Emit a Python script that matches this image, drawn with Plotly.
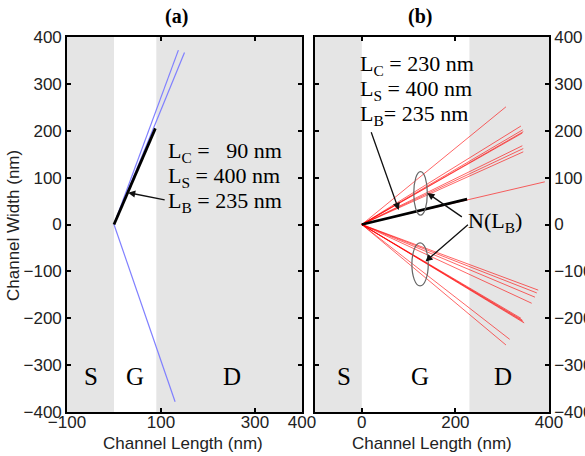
import plotly.graph_objects as go

# ---------------- data ----------------
# panel (a)
a_blue_x = [[0, 137], [0, 150], [0, 130]]
a_blue_y = [[0, 372], [0, 367], [0, -378]]
a_black_x = [0, 88]
a_black_y = [0, 205]
a_gate = [0, 90]          # gate region (L_C = 90 nm)
# panel (b)
b_black_x = [0, 225]
b_black_y = [0, 54]
b_gate = [0, 230]         # gate region (L_C = 230 nm)
b_red_end_x = [308, 340, 344, 345, 343, 343, 345, 345, 391,
               377, 374, 370, 363, 340, 343, 345, 347, 316, 308]
b_red_end_y = [251, 210, 202, 198, 195, 168, 162, 155, 91,
               -140, -146, -155, -168, -200, -204, -207, -210, -245, -257]

x_range = [-100, 400]
y_range = [-400, 400]
a_xticks = [-100, 100, 300, 400]
b_xticks = [0, 200, 400]
y_ticks = [-400, -300, -200, -100, 0, 100, 200, 300, 400]

GRAY = "#e5e5e5"
SERIF = "Liberation Serif"
SANS = "Liberation Sans"

fig = go.Figure()

for xs, ys in zip(a_blue_x, a_blue_y):
    fig.add_trace(go.Scatter(x=xs, y=ys, mode="lines",
                             line=dict(color="#8080ff", width=1.2),
                             xaxis="x", yaxis="y", showlegend=False, hoverinfo="skip"))
fig.add_trace(go.Scatter(x=a_black_x, y=a_black_y, mode="lines",
                         line=dict(color="black", width=2.8),
                         xaxis="x", yaxis="y", showlegend=False, hoverinfo="skip"))

for ex, ey in zip(b_red_end_x, b_red_end_y):
    fig.add_trace(go.Scatter(x=[0, ex], y=[0, ey], mode="lines",
                             line=dict(color="rgba(255,0,0,0.6)", width=1),
                             xaxis="x2", yaxis="y2", showlegend=False, hoverinfo="skip"))
fig.add_trace(go.Scatter(x=b_black_x, y=b_black_y, mode="lines",
                         line=dict(color="black", width=2.8),
                         xaxis="x2", yaxis="y2", showlegend=False, hoverinfo="skip"))

shapes = []
for xr, yr, gate in (("x", "y", a_gate), ("x2", "y2", b_gate)):
    shapes.append(dict(type="rect", xref=xr, yref=yr, x0=x_range[0], x1=gate[0],
                       y0=y_range[0], y1=y_range[1], fillcolor=GRAY, line_width=0, layer="below"))
    shapes.append(dict(type="rect", xref=xr, yref=yr, x0=gate[1], x1=x_range[1],
                       y0=y_range[0], y1=y_range[1], fillcolor=GRAY, line_width=0, layer="below"))
# ellipses N(L_B)
shapes.append(dict(type="circle", xref="x2", yref="y2", x0=111, x1=140, y0=20, y1=113,
                   line=dict(color="#666666", width=1.2)))
shapes.append(dict(type="circle", xref="x2", yref="y2", x0=107, x1=142, y0=-131, y1=-39,
                   line=dict(color="#666666", width=1.2)))

axis_common = dict(range=x_range, showline=True, linecolor="black", linewidth=1.6,
                   mirror="ticks", ticks="inside", ticklen=4, tickwidth=1.6, tickcolor="black",
                   showgrid=False, zeroline=False, automargin=False,
                   tickfont=dict(family=SANS, size=17, color="#222"))

ann = []
def txt(x, y, t, xr="x", yr="y", size=22, xanchor="left", **kw):
    ann.append(dict(x=x, y=y, xref=xr, yref=yr, text=t, showarrow=False, xanchor=xanchor,
                    yanchor="middle", font=dict(family=SERIF, size=size, color="black"), **kw))

def arrow(x, y, ax, ay, xr="x", yr="y"):
    ann.append(dict(x=x, y=y, ax=ax, ay=ay, xref=xr, yref=yr, axref=xr, ayref=yr, text="",
                    showarrow=True, arrowhead=2, arrowsize=1.1, arrowwidth=1.3,
                    arrowcolor="#111", standoff=0, startstandoff=0))

# panel (a) text
txt(111, 155, "L<sub>C</sub> =&nbsp;&nbsp;&nbsp;90 nm")
txt(111, 102, "L<sub>S</sub> = 400 nm")
txt(111, 49, "L<sub>B</sub> = 235 nm")
arrow(30, 68, 111, 52)
for lx, lt in ((-49, "S"), (45, "G"), (251, "D")):
    txt(lx, -325, lt, size=25, xanchor="center")

# panel (b) text
txt(-8, 340, "L<sub>C</sub> = 230 nm", "x2", "y2")
txt(-8, 287, "L<sub>S</sub> = 400 nm", "x2", "y2")
txt(-8, 234, "L<sub>B</sub>= 235 nm", "x2", "y2")
txt(222, 5, "N(L<sub>B</sub>)", "x2", "y2")
arrow(79, 31, 19, 200, "x2", "y2")
arrow(140, 67, 217, 14, "x2", "y2")
arrow(136, -79, 230, 2, "x2", "y2")
for lx, lt in ((-38, "S"), (125, "G"), (302, "D")):
    txt(lx, -325, lt, "x2", "y2", size=25, xanchor="center")

def paper_text(px, py, t, font, **kw):
    ann.append(dict(x=px / 585, y=1 - py / 456, xref="paper", yref="paper", text=t,
                    showarrow=False, xanchor="center", yanchor="middle", font=font, **kw))

# titles
paper_text(176, 16, "<b>(a)</b>", dict(family=SERIF, size=20, color="black"))
paper_text(420, 16, "<b>(b)</b>", dict(family=SERIF, size=20, color="black"))
# axis titles
for cx in (182.5, 431.7):
    paper_text(cx, 443, "Channel Length (nm)", dict(family=SANS, size=17, color="#222"))
paper_text(13, 226, "Channel Width (nm)", dict(family=SANS, size=17, color="#222"), textangle=-90)

fig.update_layout(
    width=585, height=456,
    margin=dict(l=0, r=0, t=0, b=0),
    paper_bgcolor="white", plot_bgcolor="white",
    xaxis=dict(domain=[67 / 585, 302 / 585], anchor="y", tickvals=a_xticks,
               ticklabelstandoff=-6, **axis_common),
    yaxis=dict(domain=[1 - 412 / 456, 1 - 37 / 456], anchor="x", tickvals=y_ticks,
               **{**axis_common, "range": y_range}),
    xaxis2=dict(domain=[315 / 585, 549 / 585], anchor="y2", tickvals=b_xticks,
                ticklabelstandoff=-6, **axis_common),
    yaxis2=dict(domain=[1 - 412 / 456, 1 - 37 / 456], anchor="x2", tickvals=y_ticks, side="right",
                **{**axis_common, "range": y_range}),
    shapes=shapes, annotations=ann,
)

fig.write_html("out.html")
